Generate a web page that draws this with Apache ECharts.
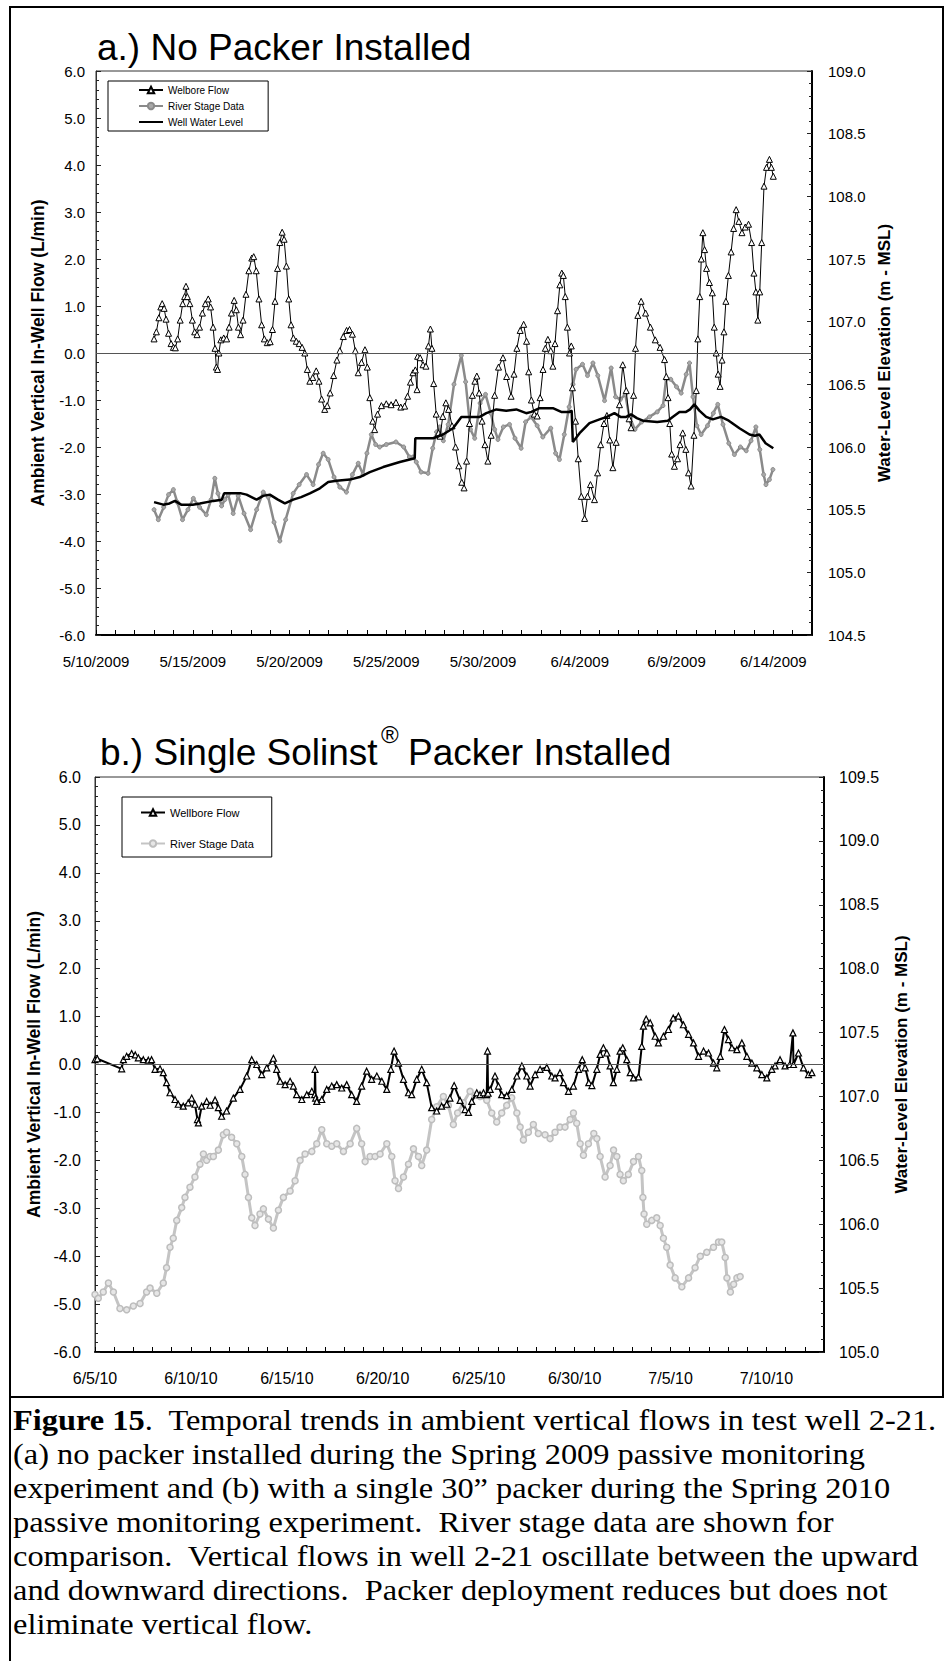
<!DOCTYPE html>
<html><head><meta charset="utf-8">
<script src="https://cdn.jsdelivr.net/npm/echarts/dist/echarts.min.js"></script>
<style>html,body{margin:0;padding:0;background:#fff}#c{width:945px;height:1661px}</style>
</head><body><div id="c"></div>
<script>
// ---------- DATA (x = days since axis start; a: 5/10/2009, b: 6/5/10) ----------
const xLabelsA = ['5/10/2009','5/15/2009','5/20/2009','5/25/2009','5/30/2009','6/4/2009','6/9/2009','6/14/2009'];
const xLabelsB = ['6/5/10','6/10/10','6/15/10','6/20/10','6/25/10','6/30/10','7/5/10','7/10/10'];

// (a) Welbore flow, L/min
const flowA = [[3.00,0.30],[3.12,0.45],[3.25,0.75],[3.35,0.98],[3.42,1.05],[3.52,0.95],[3.62,0.72],[3.75,0.42],[3.88,0.20],[4.00,0.12],[4.10,0.11],[4.22,0.30],[4.35,0.70],[4.48,1.05],[4.58,1.20],[4.65,1.42],[4.72,1.20],[4.85,1.05],[4.98,0.70],[5.10,0.45],[5.22,0.39],[5.35,0.55],[5.50,0.85],[5.65,1.05],[5.80,1.15],[5.92,0.98],[6.05,0.55],[6.15,0.10],[6.22,-0.30],[6.28,-0.35],[6.35,0.00],[6.45,0.28],[6.60,0.32],[6.75,0.30],[6.88,0.55],[7.00,0.85],[7.14,1.12],[7.25,0.92],[7.36,0.55],[7.47,0.39],[7.60,0.70],[7.75,1.25],[7.90,1.75],[8.05,2.02],[8.15,2.05],[8.28,1.75],[8.42,1.15],[8.56,0.60],[8.70,0.30],[8.85,0.22],[9.00,0.24],[9.12,0.50],[9.25,1.10],[9.38,1.80],[9.50,2.35],[9.62,2.57],[9.72,2.42],[9.84,1.85],[9.96,1.15],[10.08,0.60],[10.20,0.32],[10.35,0.25],[10.50,0.20],[10.65,0.12],[10.79,0.00],[10.92,-0.35],[11.05,-0.60],[11.20,-0.52],[11.38,-0.38],[11.52,-0.60],[11.66,-0.98],[11.82,-1.20],[11.95,-1.12],[12.10,-0.85],[12.28,-0.48],[12.45,-0.15],[12.60,0.05],[12.78,0.35],[12.95,0.48],[13.10,0.50],[13.25,0.40],[13.40,0.05],[13.55,-0.42],[13.72,-0.20],[13.90,0.07],[14.02,-0.30],[14.15,-0.95],[14.30,-1.45],[14.40,-1.63],[14.55,-1.30],[14.75,-1.12],[15.00,-1.08],[15.25,-1.10],[15.50,-1.05],[15.75,-1.15],[15.95,-1.13],[16.10,-0.92],[16.25,-0.62],[16.38,-0.42],[16.50,-0.36],[16.59,-0.78],[16.62,-0.07],[16.75,-0.10],[16.90,-0.25],[17.05,-0.28],[17.18,0.15],[17.28,0.51],[17.36,0.10],[17.45,-0.65],[17.58,-1.30],[17.70,-1.70],[17.78,-1.77],[17.92,-1.35],[18.08,-1.06],[18.22,-1.20],[18.40,-1.55],[18.58,-2.00],[18.75,-2.40],[18.90,-2.75],[19.02,-2.87],[19.15,-2.30],[19.30,-1.50],[19.45,-0.90],[19.58,-0.60],[19.68,-0.49],[19.80,-0.85],[19.95,-1.45],[20.10,-1.95],[20.25,-2.30],[20.42,-1.75],[20.60,-0.90],[20.80,-0.30],[21.03,-0.10],[21.22,-0.50],[21.45,-0.92],[21.60,-0.45],[21.75,0.10],[21.92,0.48],[22.10,0.61],[22.25,0.25],[22.36,-0.40],[22.50,-1.00],[22.65,-1.30],[22.80,-1.34],[22.95,-0.95],[23.10,-0.35],[23.22,0.10],[23.35,0.29],[23.50,0.05],[23.61,-0.28],[23.72,0.20],[23.85,0.90],[23.97,1.45],[24.07,1.70],[24.15,1.65],[24.25,1.20],[24.36,0.55],[24.47,0.00],[24.56,0.15],[24.62,-0.74],[24.78,-1.45],[24.92,-2.25],[25.08,-3.05],[25.25,-3.52],[25.40,-3.05],[25.55,-2.80],[25.76,-3.12],[25.92,-2.55],[26.08,-1.95],[26.25,-1.50],[26.40,-1.33],[26.55,-1.85],[26.71,-2.44],[26.88,-1.90],[27.05,-1.10],[27.22,-0.25],[27.40,-0.80],[27.55,-1.40],[27.65,-1.59],[27.78,-0.90],[27.88,0.10],[28.00,0.80],[28.17,1.10],[28.40,0.85],[28.65,0.55],[28.90,0.28],[29.15,0.12],[29.38,-0.14],[29.47,-0.50],[29.56,-0.95],[29.65,-1.50],[29.75,-2.15],[29.89,-2.41],[30.05,-2.25],[30.18,-1.95],[30.32,-1.70],[30.48,-2.05],[30.62,-2.55],[30.75,-2.83],[30.90,-1.75],[31.02,-0.80],[31.10,0.30],[31.20,1.20],[31.28,2.00],[31.36,2.56],[31.45,2.20],[31.55,1.80],[31.70,1.50],[31.85,1.28],[31.95,0.55],[32.05,0.00],[32.15,-0.45],[32.25,-0.71],[32.35,-0.15],[32.45,0.45],[32.55,1.10],[32.68,1.65],[32.82,2.15],[32.95,2.65],[33.08,3.05],[33.22,2.80],[33.38,2.56],[33.55,2.68],[33.72,2.74],[33.88,2.35],[34.00,1.70],[34.10,1.30],[34.20,0.70],[34.30,1.30],[34.40,2.35],[34.52,3.55],[34.65,3.95],[34.80,4.12],[34.90,3.95],[35.00,3.76]];

// (a) River stage, m MSL
const riverA = [[3.00,105.50],[3.22,105.42],[3.50,105.52],[3.75,105.62],[4.00,105.66],[4.20,105.56],[4.47,105.42],[4.75,105.50],[5.03,105.59],[5.35,105.52],[5.70,105.46],[5.95,105.58],[6.14,105.75],[6.30,105.63],[6.49,105.53],[6.66,105.58],[6.83,105.62],[7.09,105.47],[7.35,105.61],[7.65,105.47],[7.99,105.34],[8.30,105.50],[8.64,105.64],[8.90,105.60],[9.20,105.40],[9.50,105.25],[9.80,105.42],[10.19,105.63],[10.50,105.70],[10.88,105.78],[11.22,105.70],[11.50,105.86],[11.74,105.95],[12.00,105.90],[12.30,105.76],[12.60,105.68],[12.94,105.64],[13.25,105.78],[13.55,105.87],[13.80,105.78],[14.00,105.95],[14.23,106.10],[14.45,106.02],[14.66,106.00],[15.00,106.02],[15.50,106.04],[15.90,106.00],[16.20,105.92],[16.38,105.92],[16.55,105.88],[16.80,105.80],[17.16,105.79],[17.40,105.99],[17.60,106.12],[17.76,106.16],[17.95,106.05],[18.20,106.18],[18.50,106.50],[18.88,106.73],[19.10,106.52],[19.35,106.14],[19.57,106.07],[19.85,106.35],[20.13,106.42],[20.40,106.27],[20.60,106.14],[20.77,106.06],[21.05,106.16],[21.37,106.18],[21.65,106.07],[21.97,105.99],[22.20,106.20],[22.49,106.24],[22.80,106.17],[23.09,106.08],[23.50,106.15],[23.75,105.95],[23.95,105.90],[24.20,106.10],[24.45,106.32],[24.65,106.50],[24.81,106.62],[25.14,106.66],[25.40,106.57],[25.68,106.67],[25.93,106.57],[26.28,106.37],[26.62,106.63],[26.85,106.40],[27.10,106.38],[27.35,106.42],[27.55,106.25],[27.85,106.14],[28.20,106.20],[28.60,106.24],[29.00,106.28],[29.30,106.33],[29.46,106.54],[29.70,106.54],[30.00,106.48],[30.24,106.43],[30.50,106.58],[30.67,106.67],[30.85,106.40],[31.05,106.17],[31.27,106.10],[31.60,106.17],[31.90,106.27],[32.13,106.34],[32.40,106.18],[32.70,106.03],[32.99,105.94],[33.30,106.00],[33.60,105.97],[33.85,106.05],[34.10,106.16],[34.30,105.98],[34.50,105.78],[34.62,105.70],[34.80,105.74],[34.98,105.82]];

// (a) Well water level, m MSL
const wellA = [[3.00,105.56],[3.48,105.54],[3.80,105.55],[4.08,105.57],[4.40,105.54],[5.00,105.54],[5.37,105.55],[6.06,105.57],[6.50,105.58],[6.62,105.63],[7.09,105.63],[7.50,105.63],[7.78,105.62],[8.30,105.58],[8.64,105.61],[8.98,105.62],[9.40,105.58],[9.76,105.55],[10.19,105.58],[10.60,105.60],[11.05,105.63],[11.57,105.67],[12.00,105.72],[12.43,105.73],[13.12,105.74],[13.63,105.76],[14.15,105.80],[14.84,105.84],[15.70,105.88],[16.47,105.91],[16.50,106.07],[17.42,106.07],[17.93,106.10],[18.45,106.15],[18.88,106.24],[19.30,106.24],[19.83,106.24],[20.17,106.27],[20.69,106.30],[21.20,106.29],[21.72,106.30],[22.23,106.27],[22.50,106.28],[22.92,106.31],[23.61,106.31],[24.04,106.28],[24.47,106.28],[24.58,106.29],[24.64,106.04],[24.99,106.11],[25.50,106.19],[26.02,106.22],[26.40,106.24],[26.79,106.27],[27.10,106.24],[27.40,106.24],[27.65,106.26],[27.95,106.23],[28.26,106.21],[29.00,106.20],[29.55,106.21],[29.80,106.24],[30.15,106.28],[30.49,106.28],[30.70,106.30],[30.92,106.34],[31.18,106.29],[31.53,106.24],[31.87,106.22],[32.30,106.24],[32.70,106.21],[33.25,106.15],[33.77,106.10],[34.05,106.09],[34.28,106.10],[34.60,106.03],[35.00,105.99]];

// (b) Wellbore flow, L/min
const flowB = [[0.00,0.10],[0.12,0.12],[1.39,-0.09],[1.48,0.10],[1.65,0.17],[1.91,0.23],[2.10,0.20],[2.26,0.14],[2.52,0.10],[2.78,0.09],[2.95,0.10],[3.13,-0.10],[3.39,-0.09],[3.56,-0.17],[3.73,-0.38],[3.91,-0.59],[4.17,-0.73],[4.34,-0.83],[4.60,-0.87],[4.86,-0.80],[5.04,-0.70],[5.21,-0.83],[5.34,-1.15],[5.39,-1.22],[5.56,-0.87],[5.82,-0.77],[6.00,-0.85],[6.26,-0.74],[6.43,-0.90],[6.60,-1.08],[6.86,-0.97],[7.21,-0.70],[7.56,-0.52],[7.91,-0.24],[8.17,0.10],[8.43,0.00],[8.69,-0.21],[8.95,-0.07],[9.30,0.13],[9.47,-0.10],[9.65,-0.35],[9.91,-0.42],[10.17,-0.35],[10.34,-0.45],[10.51,-0.63],[10.78,-0.73],[11.04,-0.63],[11.30,-0.56],[11.45,-0.63],[11.47,-0.10],[11.50,-0.70],[11.56,-0.77],[11.82,-0.73],[12.08,-0.52],[12.34,-0.45],[12.60,-0.42],[12.86,-0.49],[13.12,-0.42],[13.38,-0.63],[13.64,-0.77],[13.90,-0.45],[14.16,-0.14],[14.42,-0.31],[14.69,-0.24],[14.95,-0.35],[15.21,-0.52],[15.42,-0.10],[15.59,0.28],[15.82,0.03],[16.08,-0.31],[16.34,-0.59],[16.51,-0.63],[16.77,-0.31],[17.03,-0.10],[17.29,-0.38],[17.55,-0.90],[17.81,-0.97],[18.07,-0.87],[18.33,-0.83],[18.50,-0.70],[18.72,-0.44],[19.03,-0.75],[19.29,-0.94],[19.47,-1.00],[19.64,-0.77],[19.90,-0.59],[20.07,-0.63],[20.25,-0.59],[20.42,-0.63],[20.46,0.28],[20.49,-0.60],[20.60,-0.52],[20.85,-0.24],[21.03,-0.45],[21.20,-0.63],[21.46,-0.65],[21.73,-0.52],[21.99,-0.24],[22.25,-0.03],[22.51,-0.24],[22.68,-0.45],[22.94,-0.21],[23.20,-0.10],[23.55,-0.06],[23.81,-0.24],[23.98,-0.28],[24.24,-0.17],[24.42,-0.38],[24.68,-0.56],[24.94,-0.45],[25.20,-0.10],[25.40,0.10],[25.55,-0.07],[25.74,-0.38],[25.90,-0.44],[26.16,-0.10],[26.33,0.21],[26.50,0.35],[26.68,0.24],[26.85,-0.03],[27.02,-0.38],[27.20,-0.10],[27.37,0.28],[27.51,0.35],[27.72,0.10],[27.90,-0.17],[28.07,-0.28],[28.33,-0.26],[28.50,0.38],[28.59,0.80],[28.73,0.95],[28.94,0.87],[29.20,0.59],[29.37,0.45],[29.63,0.59],[29.89,0.73],[30.14,0.97],[30.41,1.01],[30.67,0.83],[30.94,0.63],[31.20,0.45],[31.46,0.17],[31.72,0.28],[31.98,0.24],[32.24,0.03],[32.41,-0.07],[32.59,0.17],[32.81,0.73],[33.02,0.52],[33.20,0.35],[33.46,0.31],[33.72,0.45],[33.98,0.17],[34.24,0.03],[34.50,-0.07],[34.76,-0.21],[35.02,-0.28],[35.28,-0.10],[35.45,-0.03],[35.71,0.10],[35.97,-0.03],[36.22,0.00],[36.38,0.66],[36.41,0.00],[36.67,0.24],[36.93,-0.07],[37.19,-0.21],[37.37,-0.17]];

// (b) River stage, m MSL
const riverB = [[0.00,105.45],[0.17,105.42],[0.43,105.47],[0.70,105.54],[0.96,105.47],[1.30,105.34],[1.65,105.33],[2.00,105.36],[2.35,105.38],[2.69,105.47],[2.87,105.50],[3.22,105.46],[3.56,105.54],[3.73,105.66],[3.91,105.82],[4.08,105.89],[4.26,106.03],[4.52,106.13],[4.69,106.21],[4.95,106.29],[5.21,106.37],[5.47,106.47],[5.65,106.55],[5.82,106.50],[6.00,106.53],[6.17,106.53],[6.43,106.58],[6.69,106.70],[6.86,106.72],[7.12,106.68],[7.39,106.63],[7.65,106.53],[7.82,106.39],[8.00,106.21],[8.17,106.05],[8.34,105.99],[8.60,106.08],[8.78,106.12],[9.04,106.04],[9.30,105.97],[9.56,106.11],[9.82,106.21],[10.17,106.26],[10.43,106.34],[10.69,106.50],[10.95,106.55],[11.30,106.57],[11.56,106.63],[11.82,106.74],[12.08,106.63],[12.34,106.61],[12.60,106.63],[12.95,106.57],[13.30,106.63],[13.64,106.75],[13.90,106.63],[14.08,106.49],[14.34,106.53],[14.60,106.53],[14.86,106.55],[15.21,106.63],[15.47,106.53],[15.64,106.34],[15.82,106.28],[16.08,106.37],[16.34,106.47],[16.60,106.59],[16.86,106.53],[17.03,106.46],[17.29,106.58],[17.55,106.82],[17.81,106.92],[18.16,107.00],[18.42,106.93],[18.68,106.78],[18.90,106.87],[19.20,106.95],[19.55,107.04],[19.81,107.01],[20.07,107.00],[20.42,106.97],[20.68,106.87],[20.94,106.80],[21.20,106.87],[21.46,106.93],[21.72,106.99],[21.99,106.87],[22.16,106.76],[22.33,106.66],[22.59,106.72],[22.85,106.78],[23.11,106.71],[23.46,106.70],[23.72,106.67],[23.98,106.72],[24.24,106.76],[24.50,106.76],[24.77,106.82],[24.94,106.87],[25.11,106.79],[25.29,106.63],[25.46,106.54],[25.72,106.63],[26.00,106.71],[26.16,106.67],[26.33,106.53],[26.59,106.37],[26.85,106.46],[27.03,106.58],[27.20,106.53],[27.37,106.39],[27.54,106.34],[27.80,106.39],[28.07,106.49],[28.33,106.53],[28.50,106.42],[28.56,106.21],[28.62,106.08],[28.76,106.00],[29.02,106.03],[29.28,106.05],[29.46,105.99],[29.63,105.89],[29.80,105.82],[29.98,105.68],[30.24,105.58],[30.59,105.51],[30.94,105.58],[31.28,105.66],[31.55,105.75],[31.89,105.78],[32.24,105.82],[32.50,105.86],[32.67,105.86],[32.85,105.74],[32.94,105.58],[33.12,105.47],[33.29,105.53],[33.46,105.58],[33.63,105.59]];

const legendNames = {flowA:'Welbore Flow', riverA:'River Stage Data', wellA:'Well Water Level', flowB:'Wellbore Flow', riverB:'River Stage Data'};
const captionLines = [
  '{b|Figure 15}.  Temporal trends in ambient vertical flows in test well 2-21.',
  '(a) no packer installed during the Spring 2009 passive monitoring',
  'experiment and (b) with a single 30\u201d packer during the Spring 2010',
  'passive monitoring experiment.  River stage data are shown for',
  'comparison.  Vertical flows in well 2-21 oscillate between the upward',
  'and downward directions.  Packer deployment reduces but does not',
  'eliminate vertical flow.'
];

// ---------- CHART ----------
const SANS = "'Liberation Sans', Arial, sans-serif";
const SERIF = "'Liberation Serif', 'Times New Roman', serif";

function xAxis(gridIndex, maxDay, labels, fs, margin) {
  return {
    type: 'value', gridIndex, min: 0, max: maxDay, interval: 1,
    axisLine: {show: true, onZero: false, lineStyle: {color: '#000', width: 2}},
    axisTick: {show: true, inside: true, length: 5, lineStyle: {color: '#000', width: 1}},
    axisLabel: {fontFamily: SANS, fontSize: fs, color: '#000', margin,
      formatter: v => { const d = Math.round(v); return d % 5 === 0 ? (labels[d / 5] || '') : ''; }},
    splitLine: {show: false}
  };
}
function yAxis(gridIndex, pos, min, max, interval, name, fs, margin, nameGap, nameFs, lineW) {
  return {
    type: 'value', gridIndex, position: pos, min, max, interval,
    axisLine: {show: true, onZero: false, lineStyle: {color: pos === 'left' ? '#333' : '#000', width: lineW}},
    axisTick: {show: true, inside: true, length: 5, lineStyle: {color: '#222', width: 1}},
    minorTick: {show: true, splitNumber: 5, length: 3, lineStyle: {color: '#222', width: 1}},
    axisLabel: {fontFamily: SANS, fontSize: fs, color: '#000', margin, formatter: v => v.toFixed(1)},
    splitLine: {show: false},
    name, nameLocation: 'middle', nameRotate: 90, nameGap,
    nameTextStyle: {fontFamily: SANS, fontWeight: 'bold', fontSize: nameFs, color: '#000'}
  };
}
const zeroLine = {silent: true, symbol: 'none', label: {show: false}, animation: false,
  lineStyle: {color: '#555', width: 1, type: 'solid'}, data: [{yAxis: 0}]};

const option = {
  animation: false,
  backgroundColor: '#fff',
  grid: [
    {left: 96, top: 71, width: 716, height: 564, show: true, borderColor: '#333', borderWidth: 1},
    {left: 95, top: 777, width: 729, height: 575, show: true, borderColor: '#333', borderWidth: 1}
  ],
  xAxis: [
    xAxis(0, 37, xLabelsA, 15, 19),
    xAxis(1, 38, xLabelsB, 16, 18)
  ],
  yAxis: [
    yAxis(0, 'left', -6, 6, 1, 'Ambient Vertical In-Well Flow (L/min)', 15, 11, 49, 17.5, 1),
    yAxis(0, 'right', 104.5, 109, 0.5, 'Water-Level Elevation (m - MSL)', 15, 16, 63, 17, 2),
    yAxis(1, 'left', -6, 6, 1, 'Ambient Vertical In-Well Flow (L/min)', 16, 14, 50, 17.5, 1),
    yAxis(1, 'right', 105, 109.5, 0.5, 'Water-Level Elevation (m - MSL)', 16, 15, 69, 17, 2)
  ],
  legend: [
    {orient: 'vertical', left: 108, top: 81,
     data: ['flowA', 'riverA', {name: 'wellA', itemStyle: {opacity: 0}}],
     formatter: n => legendNames[n], itemWidth: 24, itemHeight: 8, itemGap: 6,
     padding: [4, 24, 4, 30], borderColor: '#000', borderWidth: 1, backgroundColor: '#fff',
     textStyle: {fontFamily: SANS, fontSize: 10, color: '#000'}},
    {orient: 'vertical', left: 122, top: 797, data: ['flowB', 'riverB'],
     formatter: n => legendNames[n], itemWidth: 24, itemHeight: 8, itemGap: 20,
     padding: [10, 18, 8, 18], borderColor: '#000', borderWidth: 1, backgroundColor: '#fff',
     textStyle: {fontFamily: SANS, fontSize: 11, color: '#000'}}
  ],
  series: [
    {name: 'flowA', type: 'line', xAxisIndex: 0, yAxisIndex: 0, data: flowA,
     symbol: 'triangle', symbolSize: 6, showAllSymbol: true,
     lineStyle: {color: '#000', width: 1}, itemStyle: {color: '#fff', borderColor: '#000', borderWidth: 1},
     markLine: zeroLine, z: 3},
    {name: 'riverA', type: 'line', xAxisIndex: 0, yAxisIndex: 1, data: riverA,
     symbol: 'circle', symbolSize: 4, showAllSymbol: true,
     lineStyle: {color: '#8a8a8a', width: 2.5}, itemStyle: {color: '#a8a8a8', borderColor: '#8a8a8a', borderWidth: 1}, z: 2},
    {name: 'wellA', type: 'line', xAxisIndex: 0, yAxisIndex: 1, data: wellA,
     symbol: 'none', lineStyle: {color: '#000', width: 2.5}, itemStyle: {color: '#000'}, z: 4},
    {name: 'flowB', type: 'line', xAxisIndex: 1, yAxisIndex: 2, data: flowB,
     symbol: 'triangle', symbolSize: 6, showAllSymbol: true,
     lineStyle: {color: '#000', width: 2}, itemStyle: {color: '#fff', borderColor: '#000', borderWidth: 1.2},
     markLine: zeroLine, z: 3},
    {name: 'riverB', type: 'line', xAxisIndex: 1, yAxisIndex: 3, data: riverB,
     symbol: 'circle', symbolSize: 6, showAllSymbol: true,
     lineStyle: {color: '#c4c4c4', width: 3}, itemStyle: {color: '#e6e6e6', borderColor: '#bdbdbd', borderWidth: 1.5}, z: 2}
  ],
  graphic: [
    {type: 'rect', silent: true, shape: {x: 10, y: 7, width: 933, height: 1390},
     style: {fill: 'none', stroke: '#000', lineWidth: 2}},
    {type: 'line', silent: true, shape: {x1: 10, y1: 1397, x2: 10, y2: 1661},
     style: {stroke: '#000', lineWidth: 2}},
    {type: 'text', x: 97, y: 47, silent: true,
     style: {text: 'a.) No Packer Installed', fontFamily: SANS, fontSize: 37, fill: '#000',
             textVerticalAlign: 'middle', verticalAlign: 'middle'}},
    {type: 'text', x: 100, y: 752, silent: true,
     style: {text: 'b.) Single Solinst', fontFamily: SANS, fontSize: 37, fill: '#000',
             textVerticalAlign: 'middle', verticalAlign: 'middle'}},
    {type: 'text', x: 381, y: 734, silent: true,
     style: {text: '\u00ae', fontFamily: SANS, fontSize: 24, fill: '#000',
             textVerticalAlign: 'middle', verticalAlign: 'middle'}},
    {type: 'text', x: 408, y: 752, silent: true,
     style: {text: 'Packer Installed', fontFamily: SANS, fontSize: 37, fill: '#000',
             textVerticalAlign: 'middle', verticalAlign: 'middle'}},
    {type: 'text', x: 13, y: 1403, scaleX: 1.08, silent: true,
     style: {text: captionLines.join('\n'), fontFamily: SERIF, fontSize: 30, lineHeight: 34, fill: '#000',
             textVerticalAlign: 'top', verticalAlign: 'top',
             rich: {b: {fontFamily: SERIF, fontSize: 30, fontWeight: 'bold', lineHeight: 34, fill: '#000'}}}}
  ]
};
const chart = echarts.init(document.getElementById('c'), null, {renderer: 'svg', width: 945, height: 1661});
chart.setOption(option);
</script>
</body></html>
